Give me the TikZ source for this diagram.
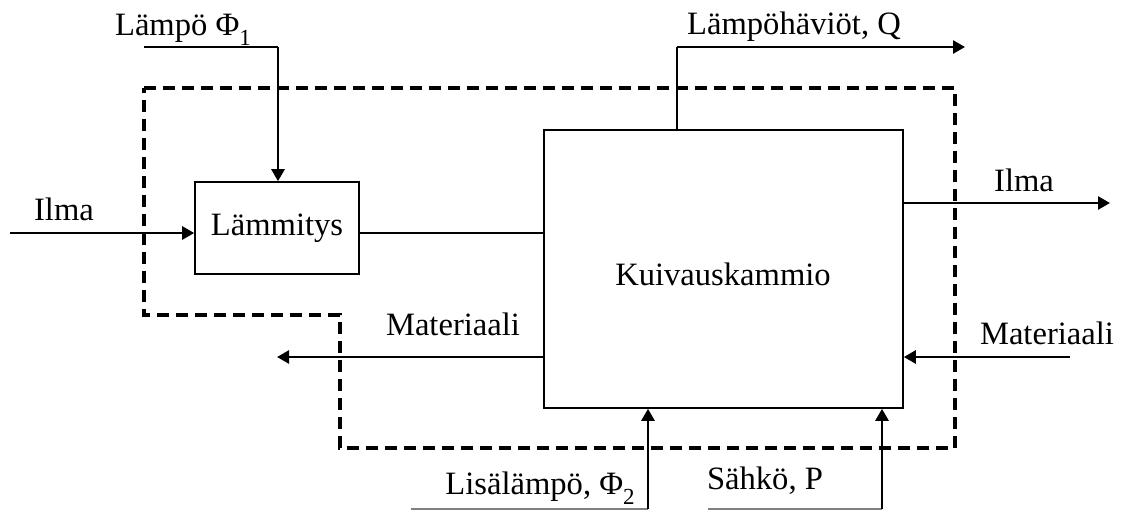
\documentclass[tikz,border=0pt]{standalone}
\usepackage{fontspec}
\setmainfont{Liberation Serif}
\usetikzlibrary{arrows.meta}

% lowered index for Phi
\newcommand{\lowidx}[1]{\raisebox{-0.32em}{\fontsize{11.5}{12}\selectfont #1}}

\begin{document}
\begin{tikzpicture}[x=0.5pt, y=-0.5pt,
    every node/.style={font=\fontsize{16.3}{19}\selectfont, inner sep=0pt},
    box/.style={draw, line width=0.8pt},
    flow/.style={line width=1.3pt, -{Triangle[length=6pt, width=6.5pt]}},
    plain/.style={line width=0.8pt},
    boundary/.style={line width=2pt, dash pattern=on 6pt off 3.5pt}]

\useasboundingbox (0,0) rectangle (1128,510);

% Blocks
\node[box, minimum width=82pt, minimum height=46pt] (lammitys) at (277,228) {Lämmitys};
\node[box, minimum width=179.5pt, minimum height=139pt] (kammio) at (723.5,269) {};
\node (kammiotxt) at (723,274) {Kuivauskammio};

% System boundary
\draw[boundary] (144,88) -- (955,88) -- (955,448) -- (340,448) -- (340,315) -- (144,315) -- cycle;

% Free ends
\coordinate (phi1start) at (144,47);
\coordinate (phi1corner) at (278,47);
\coordinate (qcorner) at (677,47);
\coordinate (qend) at (965,47);
\coordinate (ilmain) at (10,233);
\coordinate (ilmaout) at (1110,203);
\coordinate (matin) at (1070,357);
\coordinate (matout) at (277,357);
\coordinate (phi2start) at (411,509);
\coordinate (phi2corner) at (648,509);
\coordinate (pstart) at (708,509);
\coordinate (pcorner) at (882,509);

% Heat to heater
\draw[plain] (phi1start) -- (phi1corner);
\draw[flow] (phi1corner) -- (phi1corner |- lammitys.north);

% Air in and through
\draw[flow] (ilmain) -- (ilmain -| lammitys.west);
\draw[plain] (ilmain -| lammitys.east) -- (ilmain -| kammio.west);
\draw[flow] (ilmaout -| kammio.east) -- (ilmaout);

% Heat losses
\draw[plain] (qcorner |- kammio.north) -- (qcorner);
\draw[flow] (qcorner) -- (qend);

% Material
\draw[flow] (matin) -- (matin -| kammio.east);
\draw[flow] (matout -| kammio.west) -- (matout);

% Extra heat and electricity
\draw[plain, gray] (phi2start) -- (phi2corner);
\draw[flow] (phi2corner) -- (phi2corner |- kammio.south);
\draw[plain, gray] (pstart) -- (pcorner);
\draw[flow] (pcorner) -- (pcorner |- kammio.south);

% Labels
\node (lphi1) at (183,30) {Lämpö Φ\lowidx{1}};
\node (lq) at (794,27) {Lämpöhäviöt, Q};
\node (lilmain) at (64,209) {Ilma};
\node (lilmaout) at (1024,180) {Ilma};
\node (lmatin) at (1047,333) {Materiaali};
\node (lmatout) at (453,324) {Materiaali};
\node (lphi2) at (540,488) {Lisälämpö, Φ\lowidx{2}};
\node (lp) at (765,481) {Sähkö, P};

\end{tikzpicture}
\end{document}
